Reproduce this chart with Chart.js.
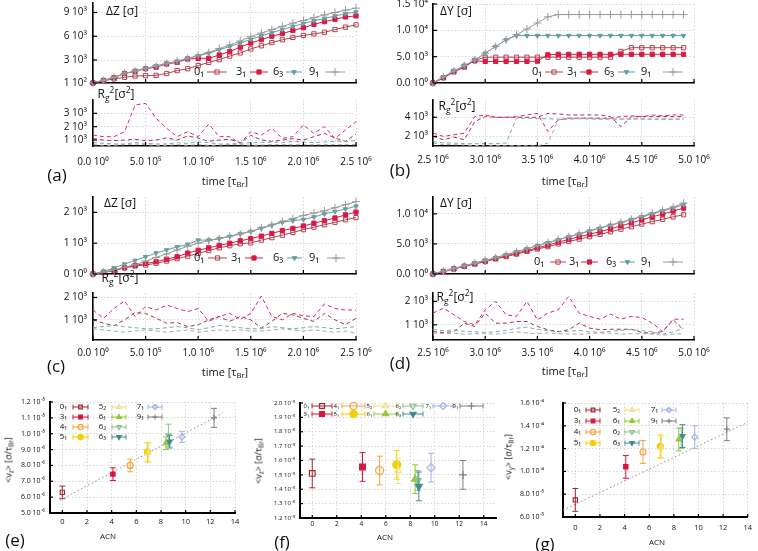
<!DOCTYPE html>
<html><head><meta charset="utf-8">
<script src="https://cdn.jsdelivr.net/npm/chart.js@4.4.1/dist/chart.umd.min.js"></script>
<style>
html,body{margin:0;padding:0;background:#fff;}
body{width:758px;height:551px;position:relative;overflow:hidden;font-family:'Open Sans',sans-serif;color:#111}
canvas{position:absolute}
.t{position:absolute;white-space:nowrap;transform:translate(-50%,-50%);line-height:1}
.t sub{font-size:70%;vertical-align:-0.3em;line-height:0}
.t sup{font-size:70%;vertical-align:0.55em;line-height:0}
.t.r{transform:translate(-50%,-50%) rotate(-90deg)}
</style></head><body>
<script>
const FONT = "'Open Sans', sans-serif";

// ---------------- time panels ----------------
const timeA = [0,1e5,2e5,3e5,4e5,5e5,6e5,7e5,8e5,9e5,1.0e6,1.1e6,1.2e6,1.3e6,1.4e6,1.5e6,1.6e6,1.7e6,1.8e6,1.9e6,2.0e6,2.1e6,2.2e6,2.3e6,2.4e6,2.5e6];
const timeB = [2.5e6,2.6e6,2.7e6,2.8e6,2.9e6,3.0e6,3.1e6,3.2e6,3.3e6,3.4e6,3.5e6,3.6e6,3.7e6,3.8e6,3.9e6,4.0e6,4.1e6,4.2e6,4.3e6,4.4e6,4.5e6,4.6e6,4.7e6,4.8e6,4.9e6];
const timeTicksA = [0,5e5,1e6,1.5e6,2e6,2.5e6];
const timeLabelsA = ['0.0 10⁰','5.0 10⁵','1.0 10⁶','1.5 10⁶','2.0 10⁶','2.5 10⁶'];
const timeTicksB = [2.5e6,3e6,3.5e6,4e6,4.5e6,5e6];
const timeLabelsB = ['2.5 10⁶','3.0 10⁶','3.5 10⁶','4.0 10⁶','4.5 10⁶','5.0 10⁶'];
const timeKnots = ['0₁','3₁','6₃','9₁'];

// (a) ΔZ
const dzA_01 = [100,380,620,820,980,1020,1060,1300,1660,1900,2300,2700,3050,3500,3900,4400,4800,5200,5550,5850,6100,6300,6500,6850,7150,7450];
const dzA_31 = [100,420,780,1300,1580,1900,2100,2500,2700,3130,3210,3210,3640,4070,4630,5140,5570,6000,6340,6730,7070,7500,7840,8140,8440,8570];
const dzA_63 = [100,420,800,1300,1600,1950,2250,2550,2850,3150,3550,3850,4300,4700,5150,5600,6050,6450,6850,7250,7600,7950,8250,8550,8850,9050];
const dzA_91 = [100,420,800,1300,1600,1950,2250,2550,2850,3200,3600,3950,4450,4900,5400,5950,6400,6850,7250,7650,8000,8350,8700,9000,9300,9550];
const aZticks = [100,3000,6000,9000], aZlabels = ['1 10²','3 10³','6 10³','9 10³'];
// (a) Rg²
const rgA_01 = [1100,1000,950,1000,1050,950,1000,1150,1000,1300,1150,900,1000,1050,800,1350,1000,900,1000,1100,1000,1250,1500,1150,900,1450];
const rgA_31 = [1375,1250,1250,1625,3625,3750,2625,1875,1250,1625,1250,2200,1250,1250,750,1625,1375,1875,1125,1250,2125,1500,2000,1125,1750,2375];
const rgA_63 = [800,750,700,700,800,750,700,700,800,750,850,800,700,700,750,800,800,850,800,900,850,800,850,900,900,950];
const rgA_91 = [650,600,600,650,700,650,600,600,650,600,650,600,620,650,650,600,620,650,650,640,650,640,650,650,650,650];
const aRticks = [1000,2000,3000], aRlabels = ['1 10³','2 10³','3 10³'];

// (b) ΔY
const dyB_01 = [0,1000,2100,3000,4300,4900,4900,4900,4900,4900,4900,4900,4900,4900,4900,4900,4900,4900,6000,6700,6700,6700,6700,6700,6700];
const dyB_31 = [0,1000,2200,3200,4200,4100,4100,4100,4100,4100,4150,5350,5450,5450,5450,5450,5450,5450,5450,5450,5450,5450,5450,5450,5450];
const dyB_63 = [0,1150,2300,3270,4360,5640,6920,8200,9000,9000,9000,9000,9000,9000,9000,9000,9000,9000,9000,9000,9000,9000,9000,9000,9000];
const dyB_91 = [0,1150,2300,3270,4360,5640,6920,8200,9170,10260,11400,12560,13000,13000,13000,13000,13000,13000,13000,13000,13000,13000,13000,13000,13000];
const bYticks = [0,5000,10000,15000], bYlabels = ['0.0 10⁰','5.0 10³','1.0 10⁴','1.5 10⁴'];
// (b) Rg²
const rgB_01 = [2000,1650,1930,1650,3550,4070,4000,4000,4000,4000,4000,4400,4340,4240,4240,4240,4240,4070,3030,4070,4070,4070,4070,4070,4070];
const rgB_31 = [2350,2000,2170,2350,4070,4240,4000,4000,4070,4240,4400,2520,3720,3900,3900,3900,3900,3900,4070,4140,4070,4240,4140,4240,4240];
const rgB_63 = [1480,1310,1310,1240,1240,1240,1240,1310,3900,3900,3850,3850,3800,3800,3850,3850,3800,3800,3800,3850,3800,3800,3750,3800,3800];
const rgB_91 = [1310,1140,1140,1100,1050,1020,1020,1020,1020,1020,1000,1310,3720,3900,3850,3850,3800,3850,3800,3800,3850,3800,3850,3800,3800];
const bRticks = [2000,4000], bRlabels = ['2 10³','4 10³'];

// (c) ΔZ
const dzC_01 = [0,60,120,200,260,290,350,420,500,580,670,760,850,920,980,1010,1100,1180,1260,1350,1440,1520,1600,1680,1760,1830];
const dzC_31 = [0,50,120,200,280,340,400,480,560,680,770,850,930,1000,1080,1150,1230,1320,1410,1480,1560,1650,1730,1820,1920,2010];
const dzC_63 = [0,80,200,320,440,560,680,780,880,960,1100,1100,1150,1220,1300,1380,1480,1580,1680,1730,1770,1850,1950,2030,2110,2200];
const dzC_91 = [0,60,130,220,300,420,540,650,780,900,1000,1080,1150,1230,1300,1380,1500,1600,1700,1800,1900,1980,2050,2150,2250,2350];
const cZticks = [0,1000,2000], cZlabels = ['0 10⁰','1 10³','2 10³'];
// (c) Rg²
const rgC_01 = [1000,850,740,1000,1320,1290,1070,850,880,700,780,1000,1150,930,1150,1000,630,930,1290,1220,1070,930,1290,1000,780,1070];
const rgC_31 = [1440,1070,1510,1850,1150,1590,1440,1660,1510,1370,1510,930,1150,1290,1030,1290,2060,1150,1000,1290,1180,1150,1710,1510,1440,1440];
const rgC_63 = [650,700,750,700,650,600,600,650,700,650,550,650,750,700,650,600,600,700,650,600,650,700,650,600,650,700];
const rgC_91 = [600,550,500,450,500,550,500,450,500,550,450,500,550,500,550,500,500,550,600,550,500,550,500,450,500,400];
const cRticks = [1000,2000], cRlabels = ['1 10³','2 10³'];

// (d) ΔY
const dyD_01 = [0,420,850,1250,1650,2050,2500,2900,3300,3750,4150,4550,5000,5400,5800,6200,6600,7000,7450,7850,8300,8700,9100,9500,9850];
const dyD_31 = [0,420,850,1300,1700,2150,2600,3000,3450,3900,4350,4800,5300,5750,6200,6600,7050,7500,8000,8500,9000,9500,9950,10450,10950];
const dyD_63 = [0,450,900,1350,1800,2250,2700,3200,3700,4200,4700,5200,5700,6200,6650,7150,7600,8100,8550,9050,9500,10000,10500,11000,11500];
const dyD_91 = [0,450,900,1350,1800,2250,2700,3200,3700,4200,4700,5200,5700,6200,6700,7200,7700,8150,8600,9100,9600,10100,10600,11100,11800];
const dYticks = [0,5000,10000], dYlabels = ['0.0 10⁰','5.0 10³','1.0 10⁴'];
// (d) Rg²
const rgD_01 = [710,670,710,1070,930,1500,1070,1070,1140,1140,930,790,710,790,1070,860,790,810,810,810,670,640,710,1210,790];
const rgD_31 = [1500,1710,1430,1140,1000,1640,2000,1430,1360,2000,1210,1500,1640,2210,1500,1360,1240,1460,1240,1360,1310,1070,710,1240,1240];
const rgD_63 = [800,750,780,720,700,680,700,760,850,900,800,750,700,720,760,700,680,720,760,800,750,700,600,700,850];
const rgD_91 = [650,620,640,600,620,620,600,650,700,650,620,650,620,600,600,620,650,640,600,620,620,600,560,600,620];
const dRticks = [1000,2000], dRlabels = ['1 10³','2 10³'];

// ---------------- velocity vs ACN panels ----------------
const knots = ['0₁','3₁','4₁','5₁','5₂','6₁','6₂','6₃','7₁','9₁'];
const acn   = [0,4.1,5.5,6.9,7.0,8.4,8.6,8.7,9.7,12.3];
const vzE    = [6.3e-6,7.45e-6,8.0e-6,8.85e-6,8.8e-6,9.4e-6,9.9e-6,9.5e-6,9.8e-6,1.1e-5];
const vzEerr = [0.4e-6,0.4e-6,0.4e-6,0.6e-6,0.6e-6,0.4e-6,0.7e-6,0.4e-6,0.35e-6,0.6e-6];
const vzF    = [1.51e-5,1.555e-5,1.53e-5,1.57e-5,1.53e-5,1.47e-5,1.46e-5,1.42e-5,1.55e-5,1.50e-5];
const vzFerr = [1.0e-6,1.0e-6,1.0e-6,1.0e-6,0.9e-6,1.0e-6,0.7e-6,1.0e-6,1.0e-6,1.0e-6];
const vyG    = [7.5e-5,1.04e-4,1.17e-4,1.22e-4,1.21e-4,1.28e-4,1.29e-4,1.31e-4,1.30e-4,1.37e-4];
const vyGerr = [1e-5,1e-5,1e-5,1e-5,1e-5,1e-5,0.9e-5,1e-5,1e-5,1e-5];
const fitXE = [-0.2,13];
const fitE  = [5.8e-6,1.13e-5];
const fitXG = [-1,14];
const fitG  = [6.6e-5,1.43e-4];
const acnTicks = [0,2,4,6,8,10,12,14], acnLabels = ['0','2','4','6','8','10','12','14'];
const eYticks = [5e-6,6e-6,7e-6,8e-6,9e-6,1e-5,1.1e-5,1.2e-5];
const eYlabels = ['5.0 10⁻⁶','6.0 10⁻⁶','7.0 10⁻⁶','8.0 10⁻⁶','9.0 10⁻⁶','1.0 10⁻⁵','1.1 10⁻⁵','1.2 10⁻⁵'];
const fYticks = [1.2e-5,1.3e-5,1.4e-5,1.5e-5,1.6e-5,1.7e-5,1.8e-5,1.9e-5,2.0e-5];
const fYlabels = ['1.2 10⁻⁵','1.3 10⁻⁵','1.4 10⁻⁵','1.5 10⁻⁵','1.6 10⁻⁵','1.7 10⁻⁵','1.8 10⁻⁵','1.9 10⁻⁵','2.0 10⁻⁵'];
const gYticks = [6e-5,8e-5,1e-4,1.2e-4,1.4e-4,1.6e-4];
const gYlabels = ['6.0 10⁻⁵','8.0 10⁻⁵','1.0 10⁻⁴','1.2 10⁻⁴','1.4 10⁻⁴','1.6 10⁻⁴'];

// ---------------- styles ----------------
const tStyle = [
  {c:'#b3424e', ps:'rect', fill:false, r:3, order:4},
  {c:'#d81b45', ps:'rect', fill:true, r:3, order:3},
  {c:'#5f9ea0', ps:'triangle', rot:180, fill:true, r:2.6, order:2},
  {c:'#9a9a9a', ps:'cross', fill:true, r:4, order:1}
];
const rgCol = ['#a8323f','#dc2a50','#6aaeae','#a8a8a8'];
const kStyle = [
  {c:'#a02a30', ps:'rect', fill:false},
  {c:'#dc143c', ps:'rect', fill:true},
  {c:'#f3a43c', ps:'circle', fill:false},
  {c:'#f2d000', ps:'circle', fill:true},
  {c:'#eee08a', ps:'triangle', fill:false},
  {c:'#96c832', ps:'triangle', fill:true},
  {c:'#8fc08f', ps:'triangle', rot:180, fill:false},
  {c:'#3f8e8e', ps:'triangle', rot:180, fill:true},
  {c:'#a3b3e3', ps:'rectRot', fill:false},
  {c:'#808080', ps:'cross', fill:true}
];

// ---------------- plugins ----------------
const inTicks = {id:'inTicks', afterDraw(chart, a, o){
  const ctx=chart.ctx, ca=chart.chartArea, xs=chart.scales.x, ys=chart.scales.y, L=o.len||4;
  ctx.save(); ctx.strokeStyle='#000'; ctx.lineWidth=o.w||1.2;
  xs.ticks.forEach(t=>{const p=xs.getPixelForValue(t.value); ctx.beginPath(); ctx.moveTo(p,ca.bottom); ctx.lineTo(p,ca.bottom-L); ctx.stroke();});
  ys.ticks.forEach(t=>{const p=ys.getPixelForValue(t.value); ctx.beginPath(); ctx.moveTo(ca.left,p); ctx.lineTo(ca.left+L,p); ctx.stroke();});
  ctx.restore();
}};
function mark(ctx, ds, x, y, r){
  ctx.fillStyle = ds.pointBackgroundColor; ctx.strokeStyle = ds.pointBorderColor; ctx.lineWidth = ds.pointBorderWidth||1;
  if (Chart.helpers && Chart.helpers.drawPoint) {
    Chart.helpers.drawPoint(ctx, {pointStyle: ds.pointStyle, rotation: ds.pointRotation||0, radius: r, borderWidth: ds.pointBorderWidth||1}, x, y);
  }
}
const lg = {id:'lg', afterDraw(chart, a, o){
  if (!o || !o.items) return;
  const ctx=chart.ctx, ox=chart.canvas.offsetLeft, oy=chart.canvas.offsetTop;
  ctx.save();
  o.items.forEach(it=>{
    const ds = chart.data.datasets[it.s];
    ctx.font = o.font; ctx.fillStyle='#111'; ctx.textAlign='right'; ctx.textBaseline='middle';
    ctx.fillText(it.t, it.tx-ox, it.y-oy);
    const x1=it.x1-ox, x2=it.x2-ox, y=it.y-oy;
    ctx.strokeStyle = ds.pointBorderColor; ctx.lineWidth=1; ctx.setLineDash([]);
    ctx.beginPath(); ctx.moveTo(x1,y); ctx.lineTo(x2,y);
    if (o.caps) { ctx.moveTo(x1,y-2.5); ctx.lineTo(x1,y+2.5); ctx.moveTo(x2,y-2.5); ctx.lineTo(x2,y+2.5); }
    ctx.stroke();
    mark(ctx, ds, (x1+x2)/2, y, o.r || ds.pointRadius);
  });
  ctx.restore();
}};
const eb = {id:'eb', beforeDatasetDraw(chart, args){
  const ds = chart.data.datasets[args.index]; if (!ds.err) return;
  const ctx=chart.ctx, xs=chart.scales.x, ys=chart.scales.y;
  ctx.save(); ctx.strokeStyle=ds.pointBorderColor; ctx.lineWidth=1;
  ds.data.forEach((p,i)=>{
    const x=xs.getPixelForValue(p.x), y1=ys.getPixelForValue(p.y-ds.err[i]), y2=ys.getPixelForValue(p.y+ds.err[i]);
    ctx.beginPath(); ctx.moveTo(x,y1); ctx.lineTo(x,y2);
    ctx.moveTo(x-3,y1); ctx.lineTo(x+3,y1); ctx.moveTo(x-3,y2); ctx.lineTo(x+3,y2); ctx.stroke();
  });
  ctx.restore();
}};

// ---------------- builders ----------------
function tsDs(xs, ys, k, dashed){
  const st = tStyle[k];
  if (dashed) return {data: xs.map((x,i)=>({x, y: ys[i]})), showLine:true, borderColor: rgCol[k], borderWidth:1, borderDash:[4,3],
    pointRadius:0, pointBorderColor: rgCol[k], pointBackgroundColor: rgCol[k], tension:0, clip:false, order: st.order};
  return {data: xs.map((x,i)=>({x, y: ys[i]})), showLine:true, borderColor: st.c, borderWidth:1,
    pointStyle: st.ps, pointRotation: st.rot||0, pointRadius: st.r, pointBackgroundColor: st.fill?st.c:'rgba(255,255,255,0)',
    pointBorderColor: st.c, pointBorderWidth:1, tension:0, clip:false, order: st.order};
}
function kDs(vals, errs, i, r){
  const st = kStyle[i];
  return {label: knots[i], data:[{x: acn[i], y: vals[i]}], err:[errs[i]], showLine:false,
    pointStyle: st.ps, pointRotation: st.rot||0, pointRadius: r, pointBorderWidth: 1.2,
    pointBackgroundColor: st.fill?st.c:'rgba(255,255,255,0)', pointBorderColor: st.c, order: 20-i};
}
function fitDs(xs, ys){
  return {data: xs.map((x,i)=>({x, y: ys[i]})), showLine:true, borderColor:'#8a8a8a', borderWidth:1, borderDash:[1.5,2.5], pointRadius:0, order:40};
}
function mk(c){
  const [L,T,R,B] = c.area, PT=30, PR=(c.pr!==undefined?c.pr:30), XH=30;
  const cv = document.createElement('canvas');
  const W = R-L+c.yw+PR, H = B-T+PT+XH;
  cv.width=W; cv.height=H;
  cv.style.left=(L-c.yw)+'px'; cv.style.top=(T-PT)+'px'; cv.style.width=W+'px'; cv.style.height=H+'px';
  document.body.appendChild(cv);
  const ax = (a, dir, size) => ({
    type:'linear', min:a.min, max:a.max,
    afterBuildTicks: s => { s.ticks = a.ticks.map(v=>({value:v})); },
    afterFit: s => { if (dir==='x') s.height=size; else s.width=size; },
    ticks:{display: !!a.labels, font:{family:FONT, size:a.fs||10}, color:'#111', padding:a.pad||5, maxRotation:0, minRotation:0, autoSkip:false,
      callback: v => { if (!a.labels) return ''; const i = a.ticks.findIndex(t=>Math.abs(t-v) <= Math.abs(t)*1e-6 + 1e-15); return a.labels[i] + (a.trail||''); }},
    grid:{color:'#cdcdcd', lineWidth:0.8, drawTicks:false},
    border:{display:true, color:'#000', width:a.bw||1.6, dash:[1.5,2]}
  });
  return new Chart(cv, {type:'scatter', data:{datasets:c.ds}, options:{
    responsive:false, animation:false, events:[], devicePixelRatio:1,
    layout:{padding:{top:PT, right:PR, left:0, bottom:0}},
    plugins:{legend:{display:false}, tooltip:{enabled:false}, inTicks:{len:c.tl||4, w:1.2}, lg: c.lg || {}},
    scales:{x: ax(c.x,'x',XH), y: ax(c.y,'y',c.yw)}
  }, plugins:[inTicks, lg, eb]});
}
function txt(html, x, y, size, cls){
  const d=document.createElement('div'); d.className='t'+(cls?' '+cls:'');
  d.style.left=x+'px'; d.style.top=y+'px'; d.style.fontSize=size+'px'; d.innerHTML=html;
  document.body.appendChild(d);
}
function four(xs, a, b, c, d, dashed){ return [tsDs(xs,a,0,dashed), tsDs(xs,b,1,dashed), tsDs(xs,c,2,dashed), tsDs(xs,d,3,dashed)]; }
function tLeg(y, tx, x1, x2){ return {font:"11px "+FONT, items: timeKnots.map((t,i)=>({t, s:i, y, tx:tx[i], x1:x1[i], x2:x2[i]}))}; }

// ---------------- charts ----------------
const xA = {min:0, max:2.5e6, ticks:timeTicksA};
const xAl = {min:0, max:2.5e6, ticks:timeTicksA, labels:timeLabelsA, fs:10};
const xB = {min:2.5e6, max:5e6, ticks:timeTicksB};
const xBl = {min:2.5e6, max:5e6, ticks:timeTicksB, labels:timeLabelsB, fs:10};

// (g) first
function leg3(rows, tx, x1, x2, font, r){
  const items=[];
  const colOf=[0,0,0,0,1,1,1,1,2,2], rowOf=[0,1,2,3,0,1,2,3,0,1];
  knots.forEach((t,i)=>items.push({t, s:i, y:rows[rowOf[i]], tx:tx[colOf[i]], x1:x1[colOf[i]], x2:x2[colOf[i]]}));
  return {font, caps:true, r, items};
}
const dsG = knots.map((k,i)=>kDs(vyG, vyGerr, i, 3)).concat([fitDs(fitXG, fitG)]);
mk({area:[563,403,750,517], yw:60, pr:8, x:{min:-1,max:14,ticks:acnTicks,labels:acnLabels,fs:7.5,pad:6,bw:2}, y:{min:6e-5,max:1.6e-4,ticks:gYticks,labels:gYlabels,fs:7,pad:5,bw:2,trail:'\u2003\u2003'},
  ds: dsG, tl:3, lg: leg3([410,421,432,443],[581,620,658],[586,625,662],[600,639,676],"8px "+FONT,2.6)});

// (a)
mk({area:[93,3,356,83], yw:60, x:xA, y:{min:100,max:10200,ticks:aZticks,labels:aZlabels,pad:6},
  ds: four(timeA, dzA_01, dzA_31, dzA_63, dzA_91),
  lg: tLeg(72, [204,246,283,319], [207,250,286,325], [227,268,302,345])});
mk({area:[93,100,356,146], yw:60, x:Object.assign({pad:10},xAl), y:{min:550,max:4000,ticks:aRticks,labels:aRlabels,pad:6},
  ds: four(timeA, rgA_01, rgA_31, rgA_63, rgA_91, true)});
// (b)
mk({area:[433,4,694,83], yw:60, x:xB, y:{min:0,max:15000,ticks:bYticks,labels:bYlabels,pad:5},
  ds: four(timeB, dyB_01, dyB_31, dyB_63, dyB_91),
  lg: tLeg(72, [542,577,614,651], [545,580,618,663], [563,598,635,683])});
mk({area:[433,100,694,146], yw:60, x:Object.assign({pad:8},xBl), y:{min:1000,max:5800,ticks:bRticks,labels:bRlabels,pad:5},
  ds: four(timeB, rgB_01, rgB_31, rgB_63, rgB_91, true)});
// (c)
mk({area:[93,197,356,274], yw:60, x:xA, y:{min:0,max:2500,ticks:cZticks,labels:cZlabels,pad:6},
  ds: four(timeA, dzC_01, dzC_31, dzC_63, dzC_91),
  lg: tLeg(258, [204,241,283,319], [208,245,287,327], [227,263,302,345])});
mk({area:[93,293,356,340], yw:60, x:Object.assign({pad:7},xAl), y:{min:100,max:2200,ticks:cRticks,labels:cRlabels,pad:6},
  ds: four(timeA, rgC_01, rgC_31, rgC_63, rgC_91, true)});
// (d)
mk({area:[433,197,694,274], yw:60, x:xB, y:{min:0,max:12800,ticks:dYticks,labels:dYlabels,pad:5},
  ds: four(timeB, dyD_01, dyD_31, dyD_63, dyD_91),
  lg: tLeg(262, [544,579,616,651], [550,581,620,663], [566,598,635,683])});
mk({area:[433,293,694,340], yw:60, x:Object.assign({pad:7},xBl), y:{min:350,max:2360,ticks:dRticks,labels:dRlabels,pad:5},
  ds: four(timeB, rgD_01, rgD_31, rgD_63, rgD_91, true)});

// (e)
const dsE = knots.map((k,i)=>kDs(vzE, vzEerr, i, 3)).concat([fitDs(fitXE, fitE)]);
mk({area:[50,402,235,513], yw:50, x:{min:-1,max:14,ticks:acnTicks,labels:acnLabels,fs:7.5,pad:4,bw:2}, y:{min:5e-6,max:1.2e-5,ticks:eYticks,labels:eYlabels,fs:7,pad:5,bw:2},
  ds: dsE, tl:3, lg: leg3([407,417,427,437],[67,106,144],[73,112,148],[88,126,162],"8px "+FONT,2.6)});
// (f)
const dsF = knots.map((k,i)=>kDs(vzF, vzFerr, i, 4));
const fItems = [
  {i:0,y:406,tx:309,x1:312,x2:332},{i:2,y:406,tx:339,x1:342,x2:365},{i:4,y:406,tx:372,x1:374,x2:397},
  {i:6,y:406,tx:401,x1:403,x2:423},{i:8,y:406,tx:431,x1:433,x2:453},{i:9,y:406,tx:458,x1:460,x2:483},
  {i:1,y:414,tx:309,x1:312,x2:332},{i:3,y:414,tx:339,x1:342,x2:365},{i:5,y:414,tx:372,x1:374,x2:397},{i:7,y:414,tx:401,x1:403,x2:423}
].map(o=>({t:knots[o.i], s:o.i, y:o.y, tx:o.tx, x1:o.x1, x2:o.x2}));
mk({area:[300,403,496,518], yw:50, x:{min:-1,max:15,ticks:acnTicks,labels:acnLabels,fs:6.5,pad:2,bw:2}, y:{min:1.2e-5,max:2.0e-5,ticks:fYticks,labels:fYlabels,fs:6,pad:5,bw:2},
  ds: dsF, tl:3, lg:{font:"6px "+FONT, caps:true, r:3.5, items:fItems}});

// ---------------- text ----------------
const RG = 'R<sub>g</sub><sup>2</sup>[σ<sup>2</sup>]';
const TIME = 'time [τ<sub>Br</sub>]';
txt('ΔZ [σ]',122,11,12); txt('ΔY [σ]',456,11,12); txt('ΔZ [σ]',120,203,12); txt('ΔY [σ]',456,203,12);
txt(RG,116,94,12); txt(RG,457,106,12); txt(RG,120,278,12); txt(RG,455,297,12);
txt('(a)',57,174,17); txt('(b)',400,169,17); txt('(c)',56,365,17); txt('(d)',400,362,17);
txt('(e)',15,539,17); txt('(f)',282,541,17); txt('(g)',545,543,17);
txt(TIME,225,180,11); txt(TIME,565,180,11); txt(TIME,225,371,11); txt(TIME,565,370,11);
txt('ACN',108,536,8); txt('ACN',385,537,8); txt('ACN',657,542,8);
txt('&lt;v<sub>z</sub>&gt; [σ/τ<sub>Br</sub>]',8,460,9,'r');
txt('&lt;v<sub>z</sub>&gt; [σ/τ<sub>Br</sub>]',258,461,9,'r');
txt('&lt;v<sub>y</sub>&gt; [σ/τ<sub>Br</sub>]',508,457,9,'r');
</script>
</body></html>
